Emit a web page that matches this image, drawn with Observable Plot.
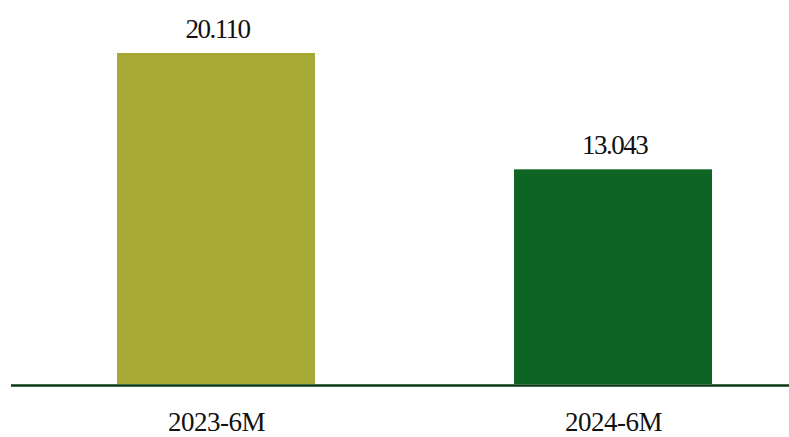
<!DOCTYPE html>
<html>
<head>
<meta charset="utf-8">
<script src="https://cdn.jsdelivr.net/npm/d3@7"></script>
<script src="https://cdn.jsdelivr.net/npm/@observablehq/plot@0.6"></script>
<style>
  html, body { margin: 0; padding: 0; background: #fff; }
  svg { display: block; }
  svg text { font-family: "Liberation Serif", "DejaVu Serif", serif !important; }
  .vals text { letter-spacing: -1.5px; }
  .cats text { letter-spacing: -0.5px; }
</style>
</head>
<body>
<div id="chart"></div>
<script>
const categories = ["2023-6M", "2024-6M"];
const values = [20.110, 13.043];
const valueLabels = ["20.110", "13.043"];
const colors = ["#a6a936", "#0e6523"];

const data = categories.map((c, i) => ({cat: c, value: values[i], label: valueLabels[i], color: colors[i]}));

const chart = Plot.plot({
  width: 789,
  height: 437,
  marginLeft: 11,
  marginRight: 0,
  marginTop: 53,
  marginBottom: 53,
  style: {background: "#fff", color: "#111"},
  x: {domain: categories, range: [-83, 911], paddingInner: 0.5025, paddingOuter: 0.5, label: null, axis: null},
  y: {domain: [0, d3.max(values)], axis: null, label: null},
  marks: [
    Plot.barY(data, {x: "cat", y: "value", fill: "color"}),
    Plot.ruleY([0], {stroke: "#0a3a16", strokeWidth: 2.4, dy: 1}),
    Plot.text(data, {x: "cat", y: "value", text: "label", dy: -16, dx: 1, lineAnchor: "bottom", fontFamily: "Liberation Serif", fontSize: 27, fill: "#111", className: "vals"}),
    Plot.text(data, {x: "cat", y: 0, text: "cat", dy: 46, lineAnchor: "bottom", fontFamily: "Liberation Serif", fontSize: 27, fill: "#111", className: "cats"})
  ]
});
document.getElementById("chart").appendChild(chart);
</script>
</body>
</html>
